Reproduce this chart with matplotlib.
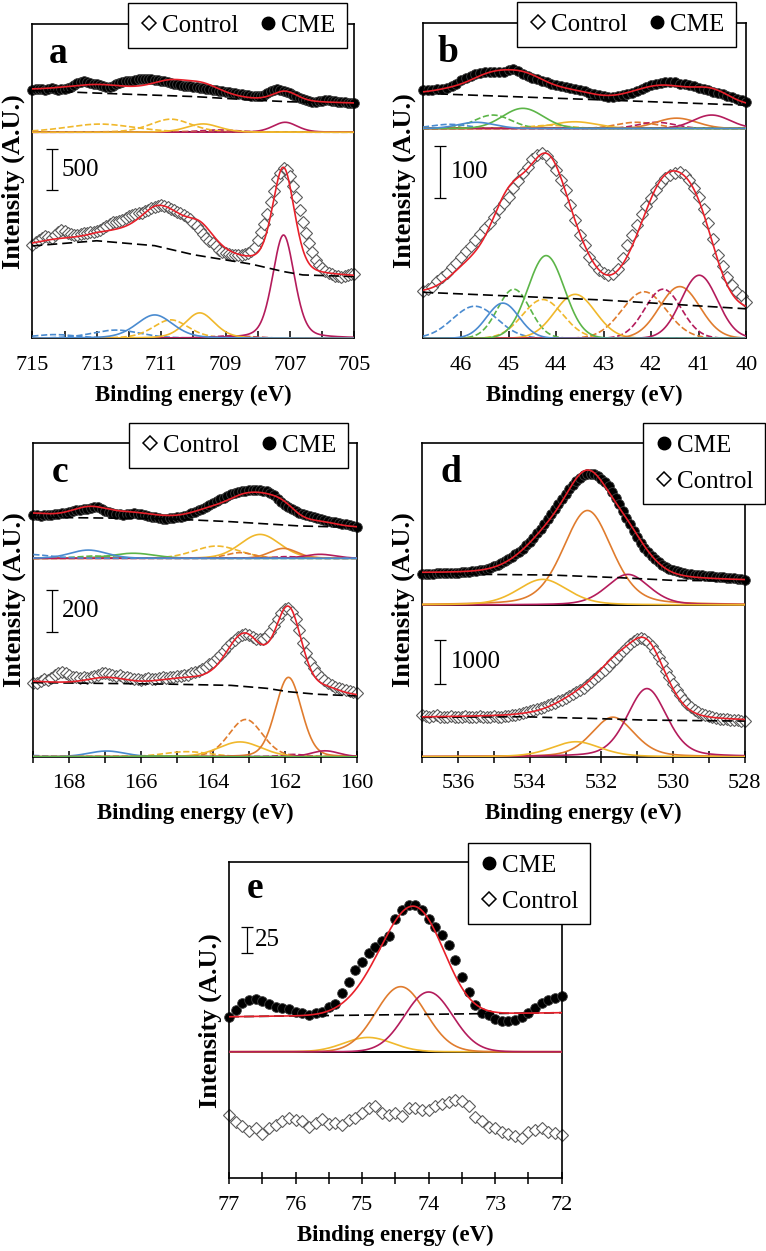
import numpy as np
import matplotlib.pyplot as plt
from matplotlib.lines import Line2D

plt.rcParams['font.family'] = ['Liberation Serif', 'DejaVu Serif']
plt.rcParams['axes.linewidth'] = 1.2

# ---------------- panel a (715 -> 705 eV, 0.1 eV steps) ----------------
a_span = (715.0, 705.0)
a_control = [1140, 1175, 1205, 1225, 1245, 1240, 1225, 1260, 1300, 1320,
             1310, 1290, 1275, 1265, 1262, 1270, 1280, 1290, 1295, 1300,
             1305, 1320, 1345, 1375, 1400, 1415, 1425, 1435, 1445, 1465,
             1490, 1506, 1515, 1525, 1534, 1550, 1565, 1585, 1605, 1620,
             1628, 1615, 1600, 1582, 1565, 1547, 1530, 1510, 1486, 1450,
             1404, 1365, 1323, 1270, 1221, 1190, 1160, 1120, 1079, 1058,
             1038, 1028, 1018, 1015, 1018, 1020, 1028, 1040, 1060, 1110,
             1201, 1300, 1400, 1520, 1660, 1800, 1940, 2020, 2084, 2055,
             1980, 1860, 1720, 1570, 1420, 1290, 1160, 1050, 960, 900,
             855, 825, 802, 780, 761, 757, 753, 760, 773, 780,
             786]
a_cme = [517, 522, 530, 525, 520, 528, 535, 525, 520, 530,
         530, 540, 555, 580, 600, 615, 620, 615, 605, 595,
         585, 575, 560, 550, 555, 570, 585, 600, 610, 620,
         625, 630, 640, 645, 650, 655, 650, 645, 640, 635,
         630, 625, 615, 605, 595, 590, 580, 570, 565, 560,
         555, 550, 545, 535, 530, 525, 515, 510, 505, 500,
         495, 490, 485, 480, 470, 465, 460, 450, 445, 440,
         440, 445, 460, 480, 500, 515, 525, 520, 505, 490,
         475, 460, 440, 420, 405, 390, 380, 375, 372, 380,
         385, 390, 390, 385, 378, 372, 368, 365, 362, 358,
         354]
a_ctl_cen = [714.3, 712.4, 710.7, 708.8, 707.2, 709.8, 711.2]
a_ctl_hgt = [45, 100, 225, 30, 1260, 310, 285]
a_ctl_fw = [1.6, 1.8, 1.3, 1.5, 0.8, 1.1, 1.35]
a_ctl_bg_e = [715, 713, 711.2, 710, 708.2, 707.2, 706.6, 705]
a_ctl_bg_v = [1127, 1190, 1130, 1020, 905, 814, 773, 753]
a_cme_cen = [709.2, 712.9, 710.7, 707.15, 709.7]
a_cme_hgt = [28, 100, 160, 122, 102]
a_cme_fw = [1.5, 2.5, 1.5, 0.9, 1.2]
a_cme_bg_e = [715, 713, 710, 708, 707, 705]
a_cme_bg_v = [510, 478, 436, 390, 372, 354]

# ---------------- panel b (46.8 -> 40.0 eV) ----------------
b_span = (46.8, 40.0)
b_control = [92, 95, 100, 110, 119, 127, 137, 146, 157, 168,
             179, 190, 202, 213, 224, 235, 250, 261, 274, 290,
             305, 319, 332, 346, 355, 359, 353, 342, 326, 306,
             286, 258, 229, 200, 181, 158, 144, 132, 126, 122,
             124, 135, 155, 181, 200, 219, 241, 256, 271, 287,
             300, 310, 316, 319, 321, 316, 306, 290, 274, 250,
             223, 192, 161, 139, 119, 103, 90, 81, 71]
b_cme = [74, 75, 75, 77, 77, 79, 82, 86, 94, 97,
         101, 105, 108, 109, 110, 110, 109, 110, 113, 115,
         112, 106, 101, 97, 95, 92, 90, 87, 85, 83,
         81, 79, 77, 75, 73, 69, 66, 65, 63, 61,
         61, 63, 65, 66, 69, 73, 77, 81, 84, 87,
         88, 89, 90, 89, 87, 86, 84, 82, 79, 77,
         74, 71, 68, 66, 63, 60, 57, 55, 52]
b_ctl_cen = [44.28, 42.15, 41.75, 44.89, 45.71, 43.6, 41.4, 40.99, 44.21, 45.12]
b_ctl_hgt = [75, 90, 95, 95, 62, 85, 100, 122, 160, 68]
b_ctl_fw = [1.0, 1.1, 0.9, 0.8, 1.1, 1.0, 1.0, 0.9, 0.9, 0.8]
b_ctl_bg_e = [46.8, 43.0, 40.0]
b_ctl_bg_v = [89, 74, 57]
b_cme_cen = [44.14, 42.31, 41.89, 45.33, 46.24, 43.61, 41.47, 40.73, 44.70, 45.68]
b_cme_hgt = [6, 12, 12, 26, 8, 13, 20, 26, 39, 12]
b_cme_fw = [1.0, 1.0, 0.9, 0.9, 0.9, 1.1, 1.0, 0.9, 1.0, 0.9]
b_cme_bg_e = [46.8, 40.0]
b_cme_bg_v = [68, 45]

# ---------------- panel c (169 -> 160 eV) ----------------
c_span = (169.0, 160.0)
c_control = [347, 350, 359, 365, 362, 370, 386, 397, 402, 394,
             386, 378, 375, 370, 375, 372, 375, 381, 386, 394,
             397, 391, 386, 381, 384, 378, 375, 372, 369, 365,
             362, 367, 372, 369, 365, 370, 375, 372, 375, 378,
             381, 381, 386, 387, 394, 400, 406, 416, 425, 438,
             449, 465, 480, 501, 517, 536, 551, 564, 573, 580,
             575, 564, 558, 554, 558, 570, 591, 617, 649, 677,
             696, 701, 685, 649, 599, 539, 488, 449, 417, 394,
             375, 362, 350, 340, 331, 324, 318, 313, 309, 306,
             302]
c_cme = [205, 205, 202, 206, 203, 205, 208, 209, 213, 214,
         219, 224, 227, 228, 232, 235, 238, 241, 241, 235,
         225, 219, 213, 209, 208, 206, 208, 209, 213, 211,
         208, 203, 200, 197, 194, 191, 187, 187, 189, 191,
         194, 197, 202, 206, 213, 219, 227, 235, 244, 252,
         260, 269, 279, 287, 295, 302, 309, 313, 317, 320,
         321, 321, 323, 321, 320, 317, 310, 298, 282, 266,
         254, 241, 232, 222, 216, 209, 205, 200, 195, 191,
         186, 181, 178, 173, 170, 167, 164, 161, 158, 153,
         150]
c_ctl_cen = [169.5, 164.73, 163.09, 161.76, 166.96, 163.25, 161.9, 160.88, 165.5]
c_ctl_hgt = [8, 24, 176, 11, 27, 70, 375, 28, 3]
c_ctl_fw = [1.5, 1.5, 1.1, 0.8, 1.2, 1.4, 0.85, 0.9, 1.4]
c_ctl_bg_e = [169, 165.3, 163.5, 162.5, 161.9, 161.1, 160]
c_ctl_bg_v = [350, 343, 337, 323, 307, 295, 287]
c_cme_cen = [167.3, 163.9, 163.25, 161.95, 166.22, 162.69, 162.04, 161.02, 169.2, 167.47]
c_cme_hgt = [11, 58, 27, 8, 24, 113, 47, 19, 19, 39]
c_cme_fw = [1.2, 1.5, 0.9, 0.9, 1.4, 1.3, 0.9, 1.0, 1.5, 1.2]
c_cme_bg_e = [169, 165.3, 163.5, 161.6, 160]
c_cme_bg_v = [194, 187, 173, 153, 146]

# ---------------- panel d (537 -> 528 eV) ----------------
d_span = (537.0, 528.0)
d_control = [948, 925, 910, 925, 940, 910, 894, 910, 925, 902,
             894, 910, 925, 910, 894, 902, 917, 910, 894, 910,
             917, 902, 910, 925, 932, 940, 955, 978, 1001, 1023,
             1046, 1069, 1092, 1114, 1137, 1167, 1198, 1228, 1258, 1296,
             1334, 1372, 1417, 1463, 1516, 1569, 1630, 1690, 1759, 1827,
             1903, 1978, 2062, 2145, 2229, 2312, 2395, 2479, 2554, 2623,
             2668, 2691, 2668, 2608, 2517, 2410, 2274, 2122, 1956, 1804,
             1652, 1516, 1395, 1289, 1198, 1122, 1061, 1008, 970, 940,
             917, 894, 879, 864, 857, 849, 841, 834, 826, 819,
             811]
d_cme = [713, 713, 713, 713, 720, 720, 720, 728, 728, 735,
         735, 743, 750, 758, 766, 773, 788, 803, 826, 849,
         879, 910, 948, 993, 1038, 1092, 1152, 1213, 1281, 1357,
         1440, 1531, 1630, 1736, 1842, 1956, 2069, 2183, 2297, 2410,
         2524, 2630, 2729, 2820, 2896, 2949, 2979, 2987, 2971, 2933,
         2873, 2797, 2698, 2577, 2441, 2289, 2138, 1986, 1834, 1683,
         1546, 1417, 1304, 1205, 1114, 1038, 970, 910, 864, 826,
         796, 766, 743, 728, 713, 697, 690, 682, 675, 667,
         659, 652, 644, 637, 629, 622, 614, 606, 599, 584,
         561]
d_ctl_cen = [531.68, 530.73, 532.71]
d_ctl_hgt = [900, 1550, 341]
d_ctl_fw = [1.4, 1.3, 1.6]
d_ctl_bg_e = [537, 534.2, 533.5, 532.3, 530.8, 528]
d_ctl_bg_v = [894, 910, 894, 872, 834, 811]
d_cme_cen = [532.39, 531.26, 533.64]
d_cme_hgt = [2150, 697, 584]
d_cme_fw = [1.6, 1.4, 1.63]
d_cme_bg_e = [537, 535.3, 533.4, 531.5, 530, 528]
d_cme_bg_v = [713, 697, 682, 622, 561, 546]

# ---------------- panel e (77 -> 72 eV) ----------------
e_span = (77.0, 72.0)
e_cme = [32.8, 39.1, 45.3, 48.4, 49.1, 47.8, 44.7, 42.2, 40.6, 39.7,
         37.5, 36.6, 34.1, 35.9, 37.5, 42.2, 44.7, 54.7, 65.6, 76.6,
         84.4, 92.2, 98.4, 103.8, 108.4, 124.1, 132.8, 137.2, 137.5, 132.8,
         124.1, 117.2, 109.4, 100.0, 85.9, 70.3, 56.3, 43.8, 36.6, 34.4,
         30.3, 29.1, 29.1, 29.7, 32.2, 35.9, 40.6, 45.9, 48.4, 50.0,
         52.2]
e_control = [59.4, 53.1, 49.1, 44.7, 47.5, 41.6, 46.9, 50.0, 54.1, 56.3,
             54.7, 54.1, 48.4, 51.6, 55.3, 50.9, 52.2, 50.0, 54.7, 56.3,
             60.9, 65.6, 67.8, 60.9, 59.4, 60.9, 58.4, 65.6, 65.6, 64.1,
             64.1, 67.8, 69.7, 71.9, 73.4, 72.8, 67.8, 57.2, 54.1, 48.4,
             46.9, 43.8, 41.6, 39.7, 37.5, 43.8, 45.3, 46.9, 43.8, 42.2,
             40.6]
e_cme_cen = [74.91, 74.42, 74.0]
e_cme_hgt = [13.4, 61, 56]
e_cme_fw = [0.85, 0.88, 0.85]
e_cme_bg_e = [77, 72]
e_cme_bg_v = [32.8, 36.6]

scale_values = [500, 100, 200, 1000, 25]

BLUE = '#4a8bd0'
GREEN = '#5cb548'
YELLOW = '#f0b82c'
ORANGE = '#e07c2e'
MAGENTA = '#b41c5c'
RED = '#e8202a'


def peak(x, c, h, w, m):
    t = (x - c) / w
    return h * ((1 - m) * np.exp(-4 * np.log(2) * t ** 2) + m / (1 + 4 * t ** 2))


def draw_fit(ax, span, base, cen, hgt, fw, styles, bg_e, bg_v, m=0.0):
    x = np.linspace(span[0], span[1], 700)
    total = np.interp(x, bg_e[::-1], bg_v[::-1])
    for c, h, w, (col, ls) in zip(cen, hgt, fw, styles):
        y = peak(x, c, h, w, m)
        total = total + y
        ax.plot(x, base + y, color=col, ls=ls, lw=1.2, zorder=3)
    ax.plot(bg_e, base + np.asarray(bg_v), color='k', lw=1.2, dashes=(6, 3), zorder=4)
    ax.plot(x, base + total, color=RED, lw=1.2, zorder=5)


def draw_points(ax, span, vals, base, kind):
    e = np.linspace(span[0], span[1], len(vals))
    y = base + np.asarray(vals, dtype=float)
    if kind == 'cme':
        ax.plot(e, y, ls='none', marker='o', ms=7, mfc='black', mec='#404040',
                mew=0.6, zorder=2, clip_on=False)
    else:
        ax.plot(e, y, ls='none', marker='D', ms=6, mfc='white', mec='#5a5a5a',
                mew=0.8, zorder=2, clip_on=False)


def setup(ax, span, ymax, div, ticks, labels, letter, lx, ly, tdir):
    ax.set_xlim(span)
    ax.set_ylim(0, ymax)
    ax.axhline(div, color='k', lw=1.4, zorder=2.5)
    ax.set_yticks([])
    ax.set_xticks(ticks)
    ax.set_xticklabels(labels)
    if tdir == 'in':
        ax.tick_params(axis='x', direction='in', length=5, width=1.1,
                       labelsize=16, pad=13)
    else:
        ax.tick_params(axis='x', direction='inout', length=8, width=1.1,
                       labelsize=16, pad=8.5)
    ax.set_xlabel('Binding energy (eV)', fontsize=16.5, fontweight='bold', labelpad=7)
    ax.set_ylabel('Intensity (A.U.)', fontsize=19, fontweight='bold', labelpad=5)
    ax.text(lx, ly, letter, transform=ax.transAxes, fontsize=27,
            fontweight='bold', va='baseline', ha='left')


def scale_bar(ax, x, y0, val, tx):
    ax.errorbar([x], [y0 + val / 2], yerr=[val / 2], color='k', lw=0.9,
                capsize=4, capthick=0.9, zorder=6)
    ax.text(tx, y0 + val / 2, str(val), fontsize=18, va='center', ha='left')


def legend(ax, order, anchor, ncol):
    h_ctl = Line2D([], [], ls='none', marker='D', ms=7.5, mfc='white',
                   mec='black', mew=1.1)
    h_cme = Line2D([], [], ls='none', marker='o', ms=9, mfc='black', mec='black')
    hs = {'Control': h_ctl, 'CME': h_cme}
    lg = ax.legend([hs[k] for k in order], order, loc='upper right',
                   bbox_to_anchor=anchor, ncol=ncol, fontsize=18, frameon=True,
                   fancybox=False, framealpha=1, edgecolor='black',
                   borderpad=0.45, handlelength=0.8, handletextpad=0.12,
                   columnspacing=0.8, labelspacing=0.55, borderaxespad=0)
    lg.get_frame().set_linewidth(1.0)
    lg.set_zorder(10)


fig = plt.figure(figsize=(7.66, 12.51), dpi=100)

# ---- a
ax = fig.add_axes([0.0422, 0.7296, 0.4204, 0.2510])
D = 2514
setup(ax, a_span, 3832, D, np.arange(715, 704, -1),
      [str(t) if t % 2 else '' for t in range(715, 704, -1)], 'a', 0.05, 0.877, 'in')
draw_points(ax, a_span, a_control, 0, 'ctl')
draw_fit(ax, a_span, 0, a_ctl_cen, a_ctl_hgt, a_ctl_fw,
         [(BLUE, '--'), (BLUE, '--'), (YELLOW, '--'), (MAGENTA, '--'),
          (MAGENTA, '-'), (YELLOW, '-'), (BLUE, '-')], a_ctl_bg_e, a_ctl_bg_v, m=0.3)
draw_points(ax, a_span, a_cme, D, 'cme')
draw_fit(ax, a_span, D, a_cme_cen, a_cme_hgt, a_cme_fw,
         [(MAGENTA, '--'), (YELLOW, '--'), (YELLOW, '--'), (MAGENTA, '-'),
          (YELLOW, '-')], a_cme_bg_e, a_cme_bg_v, m=0.3)
scale_bar(ax, 714.4, 1809, scale_values[0], 714.08)
legend(ax, ['Control', 'CME'], (0.977, 1.068), 2)

# ---- b
ax = fig.add_axes([0.5522, 0.7296, 0.4221, 0.2518])
D = 406
setup(ax, b_span, 609.6, D, np.arange(46, 39, -1),
      [str(t) for t in range(46, 39, -1)], 'b', 0.046, 0.877, 'in')
draw_points(ax, b_span, b_control, 0, 'ctl')
bstyles = [(YELLOW, '--'), (ORANGE, '--'), (MAGENTA, '--'), (GREEN, '--'),
           (BLUE, '--'), (YELLOW, '-'), (ORANGE, '-'), (MAGENTA, '-'),
           (GREEN, '-'), (BLUE, '-')]
draw_fit(ax, b_span, 0, b_ctl_cen, b_ctl_hgt, b_ctl_fw, bstyles,
         b_ctl_bg_e, b_ctl_bg_v)
draw_points(ax, b_span, b_cme, D, 'cme')
draw_fit(ax, b_span, D, b_cme_cen, b_cme_hgt, b_cme_fw, bstyles,
         b_cme_bg_e, b_cme_bg_v)
scale_bar(ax, 46.45, 272, scale_values[1], 46.21)
legend(ax, ['Control', 'CME'], (0.968, 1.068), 2)

# ---- c
ax = fig.add_axes([0.0435, 0.3951, 0.4222, 0.2505])
D = 937
setup(ax, c_span, 1480, D, np.arange(169, 159, -1),
      [str(t) if t % 2 == 0 else '' for t in range(169, 159, -1)], 'c', 0.058, 0.877,
      'inout')
draw_points(ax, c_span, c_control, 0, 'ctl')
draw_fit(ax, c_span, 0, c_ctl_cen, c_ctl_hgt, c_ctl_fw,
         [(BLUE, '--'), (YELLOW, '--'), (ORANGE, '--'), (MAGENTA, '--'),
          (BLUE, '-'), (YELLOW, '-'), (ORANGE, '-'), (MAGENTA, '-'),
          (GREEN, '-')], c_ctl_bg_e, c_ctl_bg_v, m=0.15)
draw_points(ax, c_span, c_cme, D, 'cme')
draw_fit(ax, c_span, D, c_cme_cen, c_cme_hgt, c_cme_fw,
         [(GREEN, '--'), (YELLOW, '--'), (ORANGE, '--'), (MAGENTA, '--'),
          (GREEN, '-'), (YELLOW, '-'), (ORANGE, '-'), (MAGENTA, '-'),
          (BLUE, '--'), (BLUE, '-')], c_cme_bg_e, c_cme_bg_v, m=0.15)
scale_bar(ax, 168.49, 588, scale_values[2], 168.2)
legend(ax, ['Control', 'CME'], (0.973, 1.065), 2)

# ---- d
ax = fig.add_axes([0.5513, 0.3951, 0.4209, 0.2505])
D = 3450
setup(ax, d_span, 7127, D, np.arange(537, 527, -1),
      [str(t) if t % 2 == 0 else '' for t in range(537, 527, -1)], 'd', 0.055, 0.877,
      'inout')
draw_points(ax, d_span, d_control, 0, 'ctl')
dstyles = [(ORANGE, '-'), (MAGENTA, '-'), (YELLOW, '-')]
draw_fit(ax, d_span, 0, d_ctl_cen, d_ctl_hgt, d_ctl_fw, dstyles,
         d_ctl_bg_e, d_ctl_bg_v, m=0.3)
draw_points(ax, d_span, d_cme, D, 'cme')
draw_fit(ax, d_span, D, d_cme_cen, d_cme_hgt, d_cme_fw, dstyles,
         d_cme_bg_e, d_cme_bg_v, m=0.3)
scale_bar(ax, 536.51, 1653, scale_values[3], 536.19)
legend(ax, ['CME', 'Control'], (1.063, 1.065), 1)

# ---- e
ax = fig.add_axes([0.2990, 0.0581, 0.4343, 0.2526])
D = 118.7
setup(ax, e_span, 296.3, D, np.arange(77, 71.9, -0.5),
      [str(int(t)) if t == int(t) else '' for t in np.arange(77, 71.9, -0.5)],
      'e', 0.054, 0.887, 'inout')
draw_points(ax, e_span, e_control, 0, 'ctl')
draw_points(ax, e_span, e_cme, D, 'cme')
draw_fit(ax, e_span, D, e_cme_cen, e_cme_hgt, e_cme_fw,
         [(YELLOW, '-'), (ORANGE, '-'), (MAGENTA, '-')], e_cme_bg_e, e_cme_bg_v)
scale_bar(ax, 76.73, 211, scale_values[4], 76.61)
legend(ax, ['CME', 'Control'], (1.085, 1.061), 1)

fig.savefig('out.png', dpi=100)
